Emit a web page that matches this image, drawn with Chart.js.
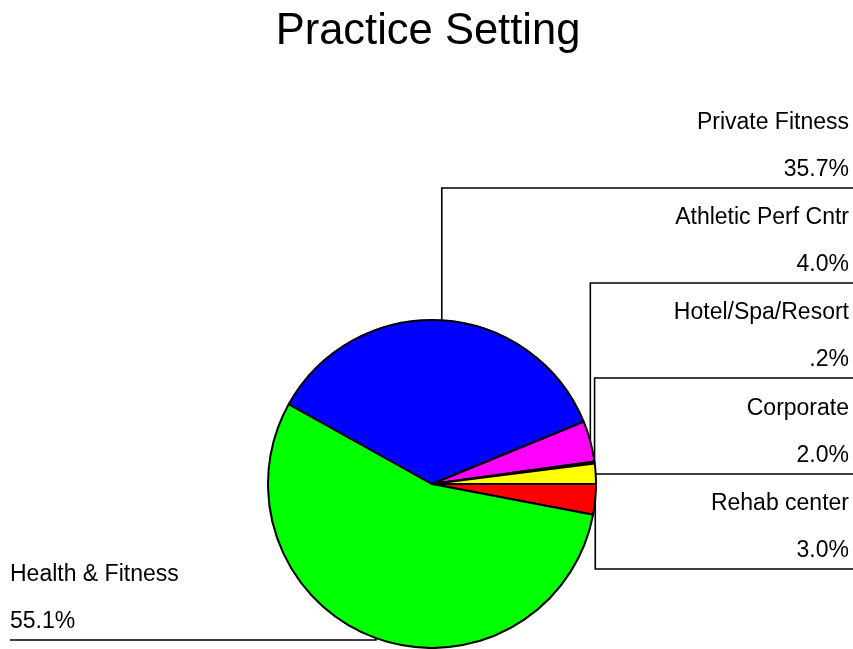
<!DOCTYPE html>
<html>
<head>
<meta charset="utf-8">
<title>Practice Setting</title>
<script src="https://cdn.jsdelivr.net/npm/chart.js@4/dist/chart.umd.min.js"></script>
<style>
  html, body { margin: 0; padding: 0; background: #ffffff; }
  #wrap { width: 853px; height: 649px; position: relative; }
</style>
</head>
<body>
<div id="wrap"><canvas id="pie" width="853" height="649"></canvas></div>
<script>
// Practice setting shares, listed clockwise starting at 3 o'clock
const categories = ['Rehab center', 'Health & Fitness', 'Private Fitness', 'Athletic Perf Cntr', 'Hotel/Spa/Resort', 'Corporate'];
const shares = [3.0, 55.1, 35.7, 4.0, 0.2, 2.0];
const sliceColors = ['#ff0000', '#00ff00', '#0000ff', '#ff00ff', '#ffff00', '#ffff00'];

const chartTitle = 'Practice Setting';

// Where each callout's rule sits and which side its text goes on
const callouts = {
  'Private Fitness':    { side: 'right', ruleY: 188 },
  'Athletic Perf Cntr': { side: 'right', ruleY: 283 },
  'Hotel/Spa/Resort':   { side: 'right', ruleY: 378 },
  'Corporate':          { side: 'right', ruleY: 474 },
  'Rehab center':       { side: 'right', ruleY: 569 },
  'Health & Fitness':   { side: 'left',  ruleY: 640 }
};

function pctText(v) {
  return v.toFixed(1).replace(/^0\./, '.') + '%';
}

const FONT = '"Liberation Sans", Arial, Helvetica, sans-serif';

const calloutPlugin = {
  id: 'callouts',
  afterDraw(chart) {
    const ctx = chart.ctx;
    const W = chart.width;
    ctx.save();

    // title
    ctx.fillStyle = '#000000';
    ctx.font = '43.5px ' + FONT;
    ctx.textAlign = 'center';
    ctx.textBaseline = 'alphabetic';
    ctx.fillText(chartTitle, 428, 44);

    const meta = chart.getDatasetMeta(0);
    ctx.strokeStyle = '#000000';
    ctx.lineWidth = 1.6;
    ctx.font = '23px ' + FONT;

    meta.data.forEach((arc, i) => {
      const name = categories[i];
      const c = callouts[name];
      if (!c) return;
      const mid = (arc.startAngle + arc.endAngle) / 2;
      const px = arc.x + Math.cos(mid) * arc.outerRadius;
      const py = arc.y + Math.sin(mid) * arc.outerRadius;

      ctx.beginPath();
      ctx.moveTo(px, py);
      ctx.lineTo(px, c.ruleY);
      ctx.lineTo(c.side === 'right' ? W : 10, c.ruleY);
      ctx.stroke();

      ctx.fillStyle = '#000000';
      const tx = c.side === 'right' ? 849 : 10;
      ctx.textAlign = c.side === 'right' ? 'right' : 'left';
      ctx.fillText(name, tx, c.ruleY - 59);
      ctx.fillText(pctText(shares[i]), tx, c.ruleY - 12);
    });
    ctx.restore();
  }
};

new Chart(document.getElementById('pie'), {
  type: 'pie',
  data: {
    labels: categories,
    datasets: [{
      data: shares,
      backgroundColor: sliceColors,
      borderColor: '#000000',
      borderWidth: 2,
      borderAlign: 'center'
    }]
  },
  options: {
    responsive: false,
    animation: false,
    rotation: 90,
    layout: { padding: { left: 265, right: 254, top: 319, bottom: -3 } },
    plugins: {
      legend: { display: false },
      title: { display: false },
      tooltip: { enabled: false }
    },
    events: []
  },
  plugins: [calloutPlugin]
});
</script>
</body>
</html>
